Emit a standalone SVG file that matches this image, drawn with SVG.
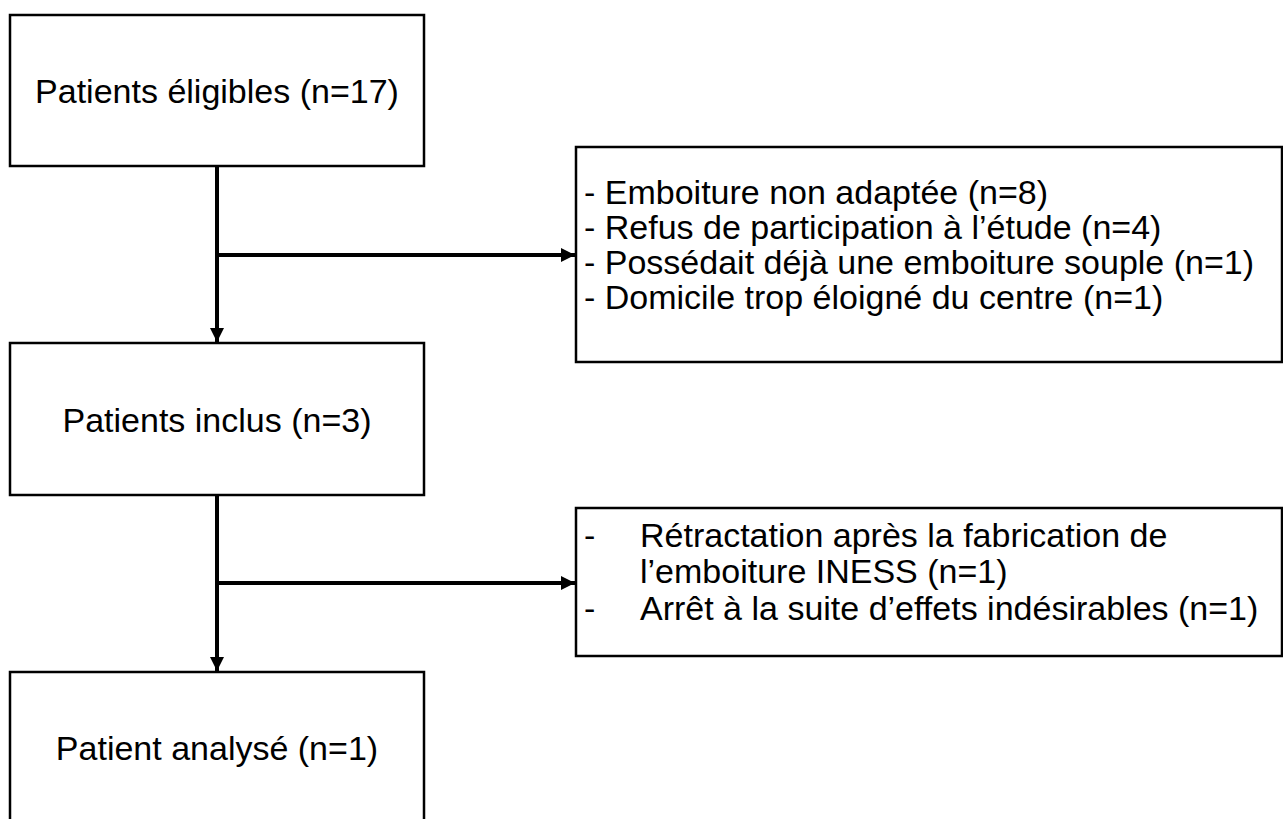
<svg xmlns="http://www.w3.org/2000/svg" width="1283" height="819" viewBox="0 0 1283 819">
  <style>
    .box { fill: #ffffff; stroke: #000000; stroke-width: 2.5; }
    .conn { fill: none; stroke: #000000; stroke-width: 4; }
    .t { font-family: "Liberation Sans", Arial, sans-serif; font-size: 34px; fill: #000000; }
    .c { text-anchor: middle; }
  </style>
  <defs>
    <marker id="arrow" markerUnits="userSpaceOnUse" markerWidth="14" markerHeight="14" viewBox="0 0 14 14" refX="14" refY="7" orient="auto">
      <path d="M0,0 L14,7 L0,14 Z" fill="#000000"/>
    </marker>
  </defs>
  <rect width="1283" height="819" fill="#ffffff"/>

  <g id="connectors">
    <line class="conn" x1="217" y1="166" x2="217" y2="342" marker-end="url(#arrow)"/>
    <line class="conn" x1="215" y1="255" x2="575" y2="255" marker-end="url(#arrow)"/>
    <line class="conn" x1="217" y1="495" x2="217" y2="671" marker-end="url(#arrow)"/>
    <line class="conn" x1="215" y1="583" x2="575" y2="583" marker-end="url(#arrow)"/>
  </g>

  <g id="eligibles">
    <rect class="box" x="10" y="15" width="414" height="151"/>
    <text class="t c" x="217" y="103">Patients éligibles (n=17)</text>
  </g>

  <g id="exclusions1">
    <rect class="box" x="576" y="147" width="706" height="215"/>
    <text class="t" x="584" y="204">- Emboiture non adaptée (n=8)</text>
    <text class="t" x="584" y="239">- Refus de participation à l’étude (n=4)</text>
    <text class="t" x="584" y="274">- Possédait déjà une emboiture souple (n=1)</text>
    <text class="t" x="584" y="309">- Domicile trop éloigné du centre (n=1)</text>
  </g>

  <g id="inclus">
    <rect class="box" x="10" y="343" width="414" height="152"/>
    <text class="t c" x="217" y="432">Patients inclus (n=3)</text>
  </g>

  <g id="exclusions2">
    <rect class="box" x="576" y="508" width="706" height="148"/>
    <text class="t" x="584" y="547">-</text>
    <text class="t" x="640" y="547">Rétractation après la fabrication de</text>
    <text class="t" x="640" y="583">l’emboiture INESS (n=1)</text>
    <text class="t" x="584" y="620">-</text>
    <text class="t" x="640" y="620">Arrêt à la suite d’effets indésirables (n=1)</text>
  </g>

  <g id="analyse">
    <rect class="box" x="10" y="672" width="414" height="170"/>
    <text class="t c" x="217" y="760">Patient analysé (n=1)</text>
  </g>
</svg>
